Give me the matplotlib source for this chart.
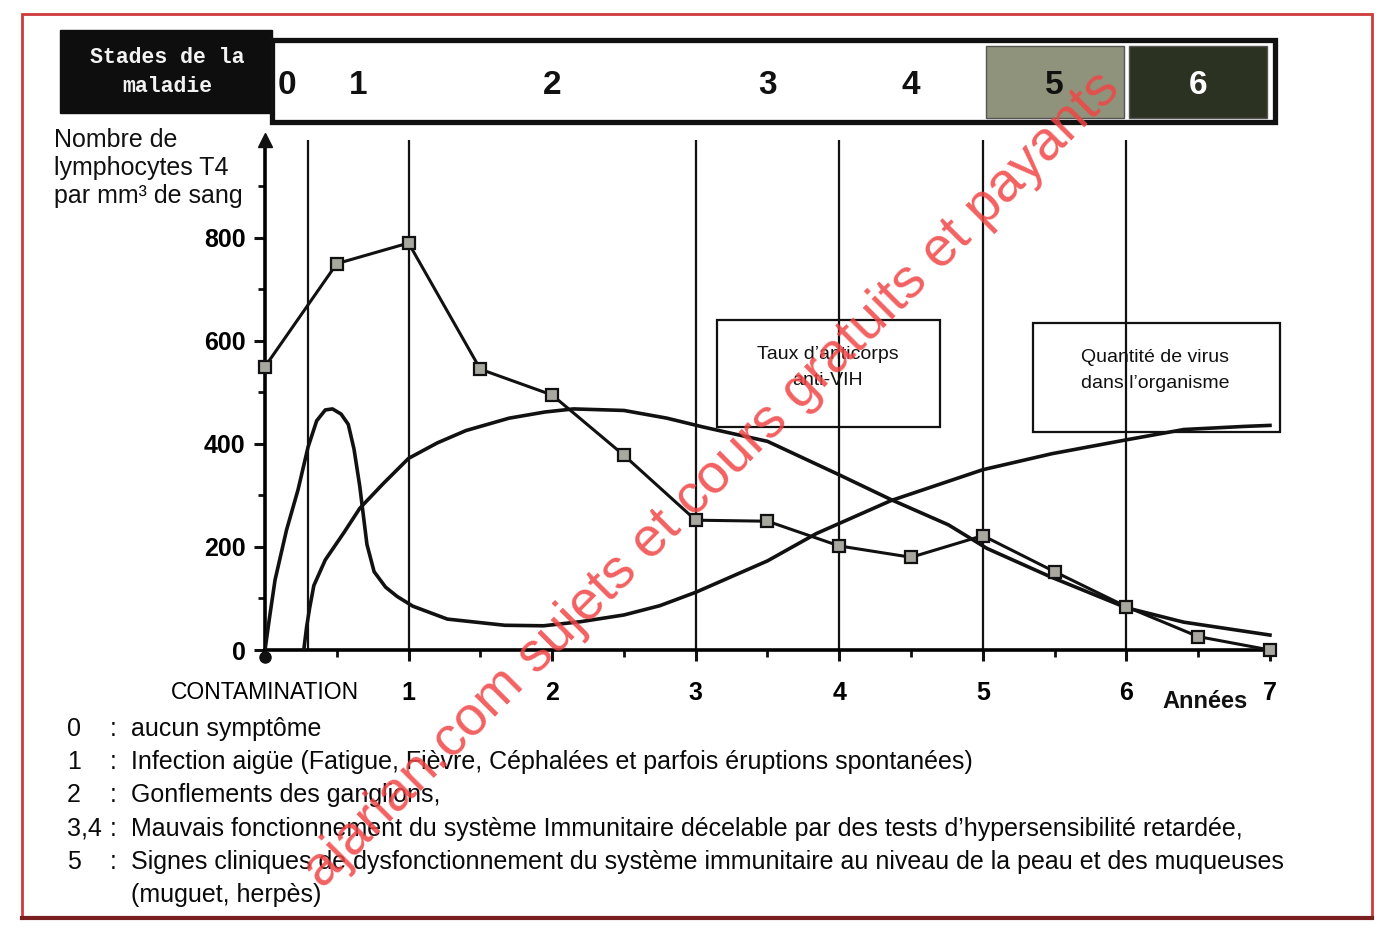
import numpy as np
import matplotlib.pyplot as plt
from matplotlib.patches import Rectangle
from matplotlib.transforms import blended_transform_factory as blend

plt.rcParams['font.family'] = ['Liberation Sans', 'DejaVu Sans']

# stades de la maladie (bornes en annees)
stade_noms = ['0', '1', '2', '3', '4', '5', '6']
stade_bornes = [0, 0.3, 1, 3, 4, 5, 6, 7]
stade_fonds = ['white', 'white', 'white', 'white', 'white', '#8f937b', '#2b3221']
stade_texte = ['#111', '#111', '#111', '#111', '#111', '#111', 'white']

# nombre de lymphocytes T4 par mm3 de sang
t4_annees = [0, 0.5, 1, 1.5, 2, 2.5, 3, 3.5, 4, 4.5, 5, 5.5, 6, 6.5, 7]
t4_valeurs = [550, 750, 790, 545, 495, 378, 252, 250, 202, 180, 222, 152, 84, 26, 0]

# taux d'anticorps anti-VIH
ac_annees = [0.27, 0.29, 0.31, 0.34, 0.42, 0.55, 0.66, 0.82, 1.0, 1.2, 1.4, 1.7, 1.95,
             2.15, 2.5, 2.8, 3.05, 3.5, 4.0, 4.36, 4.76, 5.03, 5.48, 6.0, 6.4, 7.0]
ac_valeurs = [0, 45, 80, 125, 175, 228, 275, 322, 372, 402, 426, 450, 462,
              468, 465, 450, 433, 405, 340, 292, 243, 197, 141, 82, 54, 29]

# quantite de virus dans l'organisme
vir_annees = [0, 0.03, 0.07, 0.15, 0.23, 0.3, 0.36, 0.42, 0.47, 0.53, 0.58, 0.62, 0.66,
              0.71, 0.76, 0.84, 0.92, 1.03, 1.27, 1.67, 1.94, 2.2, 2.5, 2.75, 3.0,
              3.5, 3.84, 4.36, 5.0, 5.48, 6.0, 6.4, 6.82, 7.0]
vir_valeurs = [0, 60, 136, 233, 311, 394, 445, 466, 468, 458, 438, 390, 318,
               205, 152, 122, 104, 85, 60, 48, 47, 55, 68, 86, 112,
               173, 226, 290, 350, 381, 408, 428, 434, 436]

annees_lignes = [0.3, 1, 3, 4, 5, 6]

legende_num = ['0', '1', '2', '3,4', '5', '']
legende_sep = [':', ':', ':', ':', ':', '']
legende_txt = [
    'aucun symptôme',
    'Infection aigüe (Fatigue, Fièvre, Céphalées et parfois éruptions spontanées)',
    'Gonflements des ganglions,',
    'Mauvais fonctionnement du système Immunitaire décelable par des tests '
    'd\u2019hypersensibilité retardée,',
    'Signes cliniques de dysfonctionnement du système immunitaire au niveau de la '
    'peau et des muqueuses',
    '(muguet, herpès)',
]

W, H = 1385, 932
fig = plt.figure(figsize=(W / 100, H / 100), dpi=100)


def fy(p):
    return 1 - p / H


def fx(p):
    return p / W


ax = fig.add_axes([fx(265), fy(650), fx(1010), 510 / H])
ax.set_xlim(0, 7.035)
ax.set_ylim(0, 990)
for s in ['top', 'right']:
    ax.spines[s].set_visible(False)
for s in ['left', 'bottom']:
    ax.spines[s].set_linewidth(2.6)

# lignes verticales des stades
for a in annees_lignes:
    ax.axvline(a, color='#111', lw=1.6, zorder=1)

# courbes
ax.plot(ac_annees, ac_valeurs, color='#111', lw=2.6, zorder=3)
ax.plot(vir_annees, vir_valeurs, color='#111', lw=2.6, zorder=3)
ax.plot(t4_annees, t4_valeurs, color='#111', lw=2.2, marker='s', ms=8,
        mfc='#a8a8a0', mec='#111', mew=1.6, zorder=4, clip_on=False)

# fleche axe y et point d'origine
ax.plot(0, 990, marker='^', ms=10, color='#111', clip_on=False, zorder=5)
ax.plot(0, -14, marker='o', ms=8, color='#111', clip_on=False, zorder=5)

# graduations
ax.set_yticks([0, 200, 400, 600, 800])
ax.set_yticks([100, 300, 500, 700, 900], minor=True)
ax.set_yticklabels(['0', '200', '400', '600', '800'], fontsize=18, fontweight='bold')
ax.set_xticks(range(8))
ax.set_xticks(np.arange(0.5, 7, 1), minor=True)
ax.set_xticklabels(['CONTAMINATION', '1', '2', '3', '4', '5', '6', '7'],
                   fontsize=18, fontweight='bold')
lab0 = ax.get_xticklabels()[0]
lab0.set_fontweight('normal')
lab0.set_fontsize(16.5)
ax.tick_params(axis='both', which='major', direction='out', length=8, width=2.2,
               color='#111')
ax.tick_params(axis='both', which='minor', direction='out', length=5, width=2,
               color='#111')
ax.tick_params(axis='x', which='major', pad=14)
ax.tick_params(axis='y', which='major', pad=6)

trx = blend(ax.transData, fig.transFigure)
ax.text(6.55, fy(701), 'Années', transform=trx, fontsize=17, fontweight='bold',
        ha='center', va='center', color='#111')

# titre axe y
fig.text(fx(54), fy(128), 'Nombre de\nlymphocytes T4\npar mm³ de sang', fontsize=18,
         ha='left', va='top', linespacing=1.2, color='#111')

# boites d'etiquettes
ax.add_patch(Rectangle((3.15, 433), 1.55, 208, fill=False, ec='#111', lw=1.6, zorder=2))
ax.text(3.92, 549, 'Taux d\u2019anticorps\nanti-VIH', ha='center', va='center',
        fontsize=14, linespacing=1.7, color='#111')
ax.add_patch(Rectangle((5.35, 423), 1.72, 212, fill=False, ec='#111', lw=1.6,
                       zorder=2, clip_on=False))
ax.text(6.2, 542, 'Quantité de virus\ndans l\u2019organisme', ha='center', va='center',
        fontsize=14, linespacing=1.7, color='#111')

# bandeau des stades
fig.add_artist(Rectangle((-1.43, fy(113)), 1.48, 83 / H, transform=trx,
                         fc='#0e0e0e', ec='#0e0e0e', lw=1))
fig.text(fx(167), fy(72), 'Stades de la\nmaladie', ha='center', va='center',
         color='#f2f2f2', fontsize=15.5, fontweight='bold', linespacing=1.45,
         family=['Liberation Mono', 'DejaVu Sans Mono'])
fig.add_artist(Rectangle((0.05, fy(122)), 6.985, 82 / H, transform=trx,
                         fc='white', ec='#111', lw=3.8))
for i, nom in enumerate(stade_noms):
    g, d = stade_bornes[i], stade_bornes[i + 1]
    if stade_fonds[i] != 'white':
        fig.add_artist(Rectangle((g + 0.02, fy(118)), d - g - 0.04, 72 / H,
                                 transform=trx, fc=stade_fonds[i], ec='#555', lw=1))
    fig.text((g + d) / 2, fy(86), nom, transform=trx,
             ha='center', va='center', fontsize=24, fontweight='bold',
             color=stade_texte[i])

# legende des stades
for k, (n, sep, t) in enumerate(zip(legende_num, legende_sep, legende_txt)):
    yy = fy(729 + k * 33.2)
    fig.text(fx(67), yy, n, fontsize=18, ha='left', va='center', color='#0a0a0a')
    fig.text(fx(110), yy, sep, fontsize=18, ha='left', va='center', color='#0a0a0a')
    fig.text(fx(131), yy, t, fontsize=18, ha='left', va='center', color='#0a0a0a')

# cadre rouge
fig.add_artist(Rectangle((fx(22), fy(918)), fx(1350), 904 / H, transform=fig.transFigure,
                         fill=False, ec='#cf3a3a', lw=2))
fig.add_artist(plt.Line2D([fx(22), fx(1372)], [fy(918), fy(918)], color='#7a1f1f', lw=3))

# filigrane
fig.text(fx(712), fy(480), 'ajarian.com sujets et cours gratuits et payants',
         rotation=45, ha='center', va='center', fontsize=40, color='#f04646',
         alpha=0.85, zorder=10)

fig.savefig('out.png', dpi=100, facecolor='white')
